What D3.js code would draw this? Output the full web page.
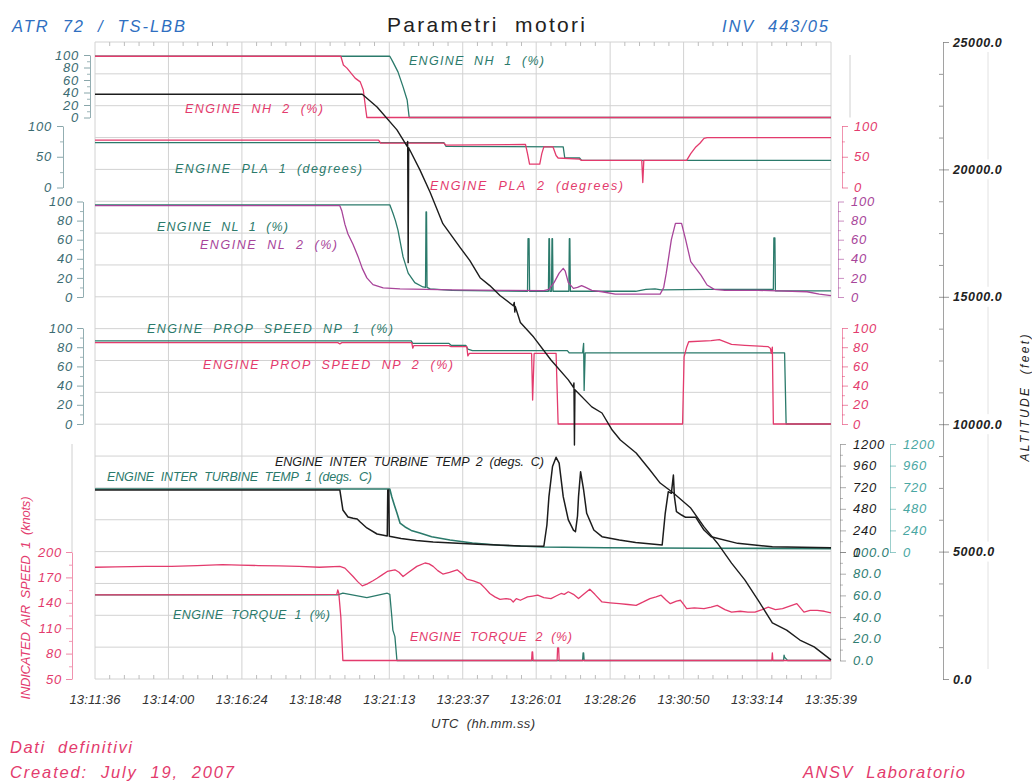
<!DOCTYPE html>
<html><head><meta charset="utf-8">
<script src="https://cdnjs.cloudflare.com/ajax/libs/d3/7.8.5/d3.min.js"></script>
<style>
body{margin:0;background:#fff;}
svg{font-family:"Liberation Sans",Arial,Helvetica,sans-serif;}
</style></head><body>
<svg id="c" width="1032" height="783"></svg>
<script>
// ---------------- DATA ----------------
const timeTicks = ["13:11:36","13:14:00","13:16:24","13:18:48","13:21:13","13:23:37","13:26:01","13:28:26","13:30:50","13:33:14","13:35:39"];
// series: [seconds after 13:11:36, value]
const engineNH1 = [[0,98],[578,98],[584,89],[594,73],[604,49],[612,28],[616,0],[1443,0]];
const engineNH2 = [[0,98],[482,98],[487,84],[494,79],[510,63],[520,57],[526,44],[531,12],[533,0],[1443,0]];
const enginePLA1 = [[0,73],[684,73],[688,67],[918,66],[921,48],[950,48],[954,44],[1443,44]];
const enginePLA2 = [[0,77],[556,77],[560,72],[684,72],[688,69],[844,70],[848,55],[852,38],[872,38],[876,55],[880,66],[898,66],[904,52],[908,48],[950,46],[954,44],[1072,44],[1074,8],[1076,44],[1160,44],[1168,55],[1178,66],[1186,72],[1194,80],[1200,81],[1443,81]];
const engineNL1 = [[0,96.5],[578,96.5],[584,88],[589,80],[594,70],[604,42],[614,25],[627,15],[643,10.5],[648,10],[649,89],[650,89],[651,10],[657,8.5],[700,7],[848,6],[849,61],[851,61],[852,6],[889,6],[890,61],[891,61],[892,6],[895,6],[896,61],[897,61],[898,6],[929,6],[930,61],[931,61],[932,6],[1060,6],[1080,8],[1098,8.5],[1110,7.5],[1200,8],[1330,8],[1331,62],[1333,62],[1334,6.5],[1443,6.5]];
const engineNL2 = [[0,95.6],[480,95.6],[484,90],[490,76],[496,66],[506,55],[516,42],[524,30],[533,20],[545,13],[565,9.5],[598,8.5],[700,7.5],[800,7],[880,6.6],[890,8],[900,15],[910,25],[918,30],[922,27],[928,15],[938,9],[946,10],[954,12],[962,10],[974,7],[994,5.5],[1020,3],[1061,3],[1108,3],[1115,10],[1120,25],[1130,60],[1138,77],[1150,77],[1158,60],[1168,37],[1178,30],[1188,23],[1200,12.6],[1214,8],[1235,7],[1300,7],[1396,5.5],[1420,3],[1443,1.5]];
const engineNP1 = [[0,86.5],[620,86.5],[623,84],[694,84],[698,82],[727,82],[731,78],[740,76.4],[926,76.4],[930,74],[956,74],[958,84],[959,35],[961,74],[1352,74],[1355,0],[1443,0]];
const engineNP2 = [[0,84.7],[476,84.7],[480,83.5],[484,84.7],[621,84.7],[623,79],[625,81.6],[694,81.6],[698,80.5],[729,80.5],[731,71],[734,73.6],[856,73.6],[858,25],[861,73.6],[904,73.6],[908,0],[1152,0],[1155,70],[1160,80],[1164,85.7],[1208,86.8],[1224,88],[1248,83],[1274,82],[1320,80.5],[1324,79],[1326,73.6],[1328,80],[1330,0],[1443,0]];
const engineITT1 = [[0,700],[574,700],[578,700],[582,611],[587,520],[592,433],[598,322],[608,278],[620,240],[637,211],[660,170],[696,133],[740,100],[794,75],[880,56],[1000,48],[1200,42],[1443,38]];
const engineITT2 = [[0,690],[480,690],[486,467],[496,389],[506,375],[514,367],[520,333],[533,267],[553,200],[573,178],[574,690],[576,690],[577,176],[600,150],[630,128],[663,111],[750,85],[834,67],[880,64],[886,300],[890,615],[897,950],[904,1052],[910,988],[918,615],[928,356],[938,244],[942,226],[946,400],[948,615],[952,892],[958,689],[964,430],[978,244],[994,170],[1028,133],[1060,105],[1112,78],[1118,430],[1124,670],[1130,652],[1134,855],[1136,615],[1140,448],[1150,411],[1158,385],[1178,385],[1194,244],[1208,170],[1260,96],[1328,59],[1443,48]];
const engineTorque1 = [[0,60.4],[476,60.4],[486,62],[533,58],[573,62],[578,61],[582,40],[584,28],[588,22],[592,0],[956,0],[957,7],[958,7],[959,0],[1350,0],[1351,5],[1352,3],[1356,1],[1358,0],[1443,0]];
const engineTorque2 = [[0,60.4],[474,61],[476,65],[478,62],[482,40],[486,0],[856,0],[857,8],[858,8],[859,0],[906,0],[907,11.5],[909,11.5],[910,0],[1327,0],[1328,7],[1329,0],[1443,0]];
const airSpeed = [[0,182],[40,182.5],[100,183],[150,183],[200,184],[250,185],[284,184.6],[320,184],[360,183.5],[400,183],[440,182],[480,183],[490,181],[506,171],[515,165],[524,160],[533,162],[545,166],[553,169],[563,173],[573,177],[588,179],[596,176],[604,171],[615,176],[631,183],[647,187],[655,186],[663,183],[672,178],[682,174],[695,176],[710,179],[720,174],[729,168],[742,166],[755,163],[765,157],[774,151],[784,147],[794,144],[806,145],[815,144],[820,141],[826,145],[834,143],[848,147],[858,148],[868,149],[880,146],[894,145],[904,148],[914,151],[920,150],[928,153],[938,150],[948,145],[958,150],[970,156],[980,150],[994,141],[1010,140],[1028,139],[1045,138],[1061,137],[1075,141],[1088,145],[1100,147],[1110,149],[1120,143],[1128,139],[1140,142],[1148,143],[1154,138],[1160,133],[1175,134],[1194,133],[1208,135],[1220,137],[1235,132],[1248,129],[1265,130],[1280,129],[1294,129],[1308,132],[1320,135],[1334,132],[1348,133],[1362,136],[1376,139],[1383,134],[1390,129],[1402,131],[1416,131],[1430,130],[1443,128]];
const altitude = [[0,22950],[524,22950],[553,22450],[592,21550],[612,20900],[613,21100],[614,16340],[615,20850],[637,19980],[657,19100],[682,17870],[716,16930],[735,16420],[755,15750],[774,15440],[794,15050],[820,14650],[822,14780],[823,14400],[824,14620],[834,13990],[860,13420],[894,12520],[928,11740],[938,11450],[939,11620],[940,9180],[941,11350],[974,10680],[994,10440],[1014,9770],[1030,9380],[1061,8870],[1088,8200],[1108,7690],[1134,7300],[1168,6710],[1194,5970],[1220,5340],[1248,4550],[1274,3890],[1300,3100],[1328,2200],[1356,1920],[1382,1530],[1410,1260],[1443,750]];

const pctTicks = [0,20,40,60,80,100];
const plaTicks = [0,50,100];
const ittTicks = [0,240,480,720,960,1200];
const torqueTicks = [0,20,40,60,80,100];
const iasTicks = [50,80,110,140,170,200];
const altTicks = [0,5000,10000,15000,20000,25000];

// ---------------- SETUP ----------------
const FONT = '"Liberation Sans",Arial,Helvetica,sans-serif';
const C = {teal:"#2b7a6b", pink:"#e33b6d", magenta:"#a8459a", black:"#1c1c1c", blue:"#2f6fc1",
           grid:"#d2d2d2", axTeal:"#3b6b72", ittTeal:"#4aa7a3", tq:"#2f7d72", gray:"#333"};
const svg = d3.select('#c');
const toSec = s => { const p = s.split(':').map(Number); return p[0]*3600+p[1]*60+p[2]; };
const T0 = toSec(timeTicks[0]);
const tickSecs = timeTicks.map(s => toSec(s) - T0);
const x = d3.scaleLinear().domain([0, tickSecs[tickSecs.length-1]]).range([95, 831]);

const yNH  = d3.scaleLinear().domain([0,100]).range([117.5,55]);
const yPLA = d3.scaleLinear().domain([0,100]).range([187.5,126]);
const yNL  = d3.scaleLinear().domain([0,100]).range([297,201.5]);
const yNP  = d3.scaleLinear().domain([0,100]).range([424,328]);
const yITT = d3.scaleLinear().domain([0,1200]).range([552,444]);
const yTQ  = d3.scaleLinear().domain([0,100]).range([660.5,552]);
const yIAS = d3.scaleLinear().domain([50,200]).range([679,552]);
const yALT = d3.scaleLinear().domain([0,25000]).range([679,42]);

// ---------------- GRID ----------------
const grid = svg.append('g');
grid.selectAll('line.h').data(d3.range(0, 25001, 1250)).join('line')
  .attr('x1', x.range()[0]).attr('x2', x.range()[1])
  .attr('y1', d => yALT(d)).attr('y2', d => yALT(d))
  .attr('stroke', C.grid).attr('stroke-width', 1);
grid.selectAll('line.v').data(tickSecs).join('line')
  .attr('x1', d => x(d)).attr('x2', d => x(d))
  .attr('y1', yALT.range()[1]).attr('y2', yALT.range()[0])
  .attr('stroke', C.grid).attr('stroke-width', 1);
const minorT = [];
for (let i = 0; i < tickSecs.length-1; i++) for (let k = 1; k < 5; k++) minorT.push(tickSecs[i] + (tickSecs[i+1]-tickSecs[i])*k/5);
grid.selectAll('line.mb').data(minorT).join('line')
  .attr('x1', d => x(d)).attr('x2', d => x(d)).attr('y1', 679).attr('y2', 675)
  .attr('stroke', '#bdbdbd');
grid.selectAll('line.mt').data(minorT).join('line')
  .attr('x1', d => x(d)).attr('x2', d => x(d)).attr('y1', 42).attr('y2', 46)
  .attr('stroke', '#bdbdbd');

// ---------------- AXES ----------------
function styleText(sel, color, size, extra) {
  sel.attr('fill', color).attr('font-size', size).style('font-style', 'italic')
     .attr('font-family', FONT).attr('letter-spacing', (extra && extra.ls !== undefined ? extra.ls : 0.8) + 'px');
  if (extra && extra.bold) sel.attr('font-weight', 'bold');
}
function makeAxis(side, scale, xPos, values, fmt, color, pad, opts) {
  opts = opts || {};
  const gen = (side === 'left' ? d3.axisLeft(scale) : d3.axisRight(scale))
    .tickValues(values).tickFormat(fmt).tickSize(opts.size || 6).tickSizeOuter(0).tickPadding(pad);
  const g = svg.append('g').attr('transform', `translate(${xPos},0)`).call(gen);
  g.select('.domain').attr('stroke', opts.lineColor || color).attr('stroke-opacity', 0.55);
  g.selectAll('.tick line').attr('stroke', opts.lineColor || color).attr('stroke-opacity', 0.6);
  styleText(g.selectAll('text'), color, opts.fs || 13, opts);
  if (opts.minor) {
    const mg = (side === 'left' ? d3.axisLeft(scale) : d3.axisRight(scale))
      .tickValues(opts.minor).tickFormat('').tickSize(opts.minorSize || 3).tickSizeOuter(0);
    const m = svg.append('g').attr('transform', `translate(${xPos},0)`).call(mg);
    m.select('.domain').remove();
    m.selectAll('.tick line').attr('stroke', opts.lineColor || color).attr('stroke-opacity', 0.5);
  }
  return g;
}
const fInt = d3.format('d'), f1 = d3.format('.1f');
makeAxis('left', yNH, 90, pctTicks, fInt, C.axTeal, 5, {minor: d3.range(10,100,20), ls:0.8});
makeAxis('left', yPLA, 63, plaTicks, fInt, C.axTeal, 5, {minor: [25,75]});
makeAxis('left', yNL, 83, pctTicks, fInt, C.axTeal, 4, {minor: d3.range(10,100,20)});
makeAxis('left', yNP, 83, pctTicks, fInt, C.axTeal, 4, {minor: d3.range(10,100,20)});
makeAxis('left', yIAS, 72, iasTicks, fInt, C.pink, 4, {minor: d3.range(65,200,30)});
makeAxis('right', yPLA, 842, plaTicks, fInt, C.pink, 6, {minor:[25,75]});
makeAxis('right', yNL, 838, pctTicks, fInt, C.magenta, 7, {minor: d3.range(10,100,20)});
makeAxis('right', yNP, 842, pctTicks, fInt, C.pink, 5, {minor: d3.range(10,100,20)});
makeAxis('right', yTQ, 840, torqueTicks, f1, C.tq, 7, {minor: d3.range(10,100,20), lineColor:'#777'});
makeAxis('right', yITT, 840, ittTicks, fInt, C.black, 7, {minor: d3.range(120,1200,240), lineColor:'#777'});
makeAxis('right', yITT, 890, ittTicks, fInt, C.ittTeal, 7, {});
makeAxis('right', yALT, 943, altTicks, f1, '#222', 4, {fs:12.5, bold:true, ls:0.6, lineColor:'#555'});
{
  const m = svg.append('g').attr('transform','translate(943,0)')
    .call(d3.axisLeft(yALT).tickValues(d3.range(1250,25000,1250)).tickFormat('').tickSize(4).tickSizeOuter(0));
  m.select('.domain').remove();
  m.selectAll('.tick line').attr('stroke','#999');
  svg.append('g').selectAll('line').data(altTicks.slice(1)).join('line')
    .attr('x1', 988).attr('x2', 988)
    .attr('y1', d => yALT(d) + 10).attr('y2', d => yALT(d - 5000) - 10)
    .attr('stroke', '#e2e2e2');
}
svg.append('line').attr('x1',850).attr('x2',850).attr('y1',yNH(100)).attr('y2',yNH(0)).attr('stroke','#d0d0d0');
svg.append('line').attr('x1',72).attr('x2',72).attr('y1',yITT(1200)).attr('y2',yITT(0)).attr('stroke','#d0d0d0');

svg.append('g').selectAll('text').data(timeTicks).join('text')
  .attr('x', (d,i) => x(tickSecs[i])).attr('y', 704).attr('text-anchor','middle')
  .text(d => d).call(s => styleText(s, C.gray, 13, {ls:0.2}));

// ---------------- SERIES ----------------
function drawLine(data, y, color, w) {
  svg.append('path').datum(data)
    .attr('d', d3.line().x(d => x(d[0])).y(d => y(d[1])))
    .attr('fill','none').attr('stroke', color).attr('stroke-width', w || 1.3)
    .attr('stroke-linejoin','round');
}
drawLine(engineNH1, yNH, C.teal);
drawLine(engineNH2, yNH, C.pink);
drawLine(enginePLA1, yPLA, C.teal);
drawLine(enginePLA2, yPLA, C.pink);
drawLine(engineNL1, yNL, C.teal);
drawLine(engineNL2, yNL, C.magenta);
drawLine(engineNP1, yNP, C.teal);
drawLine(engineNP2, yNP, C.pink);
drawLine(engineITT1, yITT, C.teal, 1.6);
drawLine(engineITT2, yITT, C.black, 1.5);
drawLine(airSpeed, yIAS, C.pink);
drawLine(engineTorque1, yTQ, C.teal);
drawLine(engineTorque2, yTQ, C.pink);
drawLine(altitude, yALT, C.black, 1.4);

// ---------------- SERIES LABELS ----------------
const seriesLabels = [
  {text:"ENGINE  NH  1  (%)", x:409, y:64.5, w:135, c:C.teal},
  {text:"ENGINE  NH  2  (%)", x:185, y:112.5, w:138, c:C.pink},
  {text:"ENGINE  PLA  1  (degrees)", x:175, y:173, w:187, c:C.teal},
  {text:"ENGINE  PLA  2  (degrees)", x:430, y:189.5, w:193, c:C.pink},
  {text:"ENGINE  NL  1  (%)", x:157, y:230.5, w:131, c:C.teal},
  {text:"ENGINE  NL  2  (%)", x:200, y:248.5, w:137, c:C.magenta},
  {text:"ENGINE  PROP  SPEED  NP  1  (%)", x:147, y:333, w:246, c:C.teal},
  {text:"ENGINE  PROP  SPEED  NP  2  (%)", x:203, y:368.5, w:250, c:C.pink},
  {text:"ENGINE  INTER  TURBINE  TEMP  2  (degs.  C)", x:275, y:466, w:269, c:C.black},
  {text:"ENGINE  INTER  TURBINE  TEMP  1  (degs.  C)", x:107, y:481, w:265, c:C.teal},
  {text:"ENGINE  TORQUE  1  (%)", x:173, y:618.5, w:157, c:C.teal},
  {text:"ENGINE  TORQUE  2  (%)", x:410, y:641, w:162, c:C.pink}
];
svg.append('g').selectAll('text').data(seriesLabels).join('text')
  .attr('x', d => d.x).attr('y', d => d.y).attr('fill', d => d.c)
  .attr('font-size', 12.5).style('font-style','italic').attr('font-family', FONT)
  .attr('textLength', d => d.w).attr('lengthAdjust','spacing')
  .style('white-space','pre').text(d => d.text);

// ---------------- TITLES ----------------
function txt(t, xx, yy, opt) {
  const e = svg.append('text').attr('x', xx).attr('y', yy).text(t)
    .attr('font-family', FONT).attr('font-size', opt.fs).attr('fill', opt.c)
    .style('white-space','pre');
  if (opt.italic !== false) e.style('font-style','italic');
  if (opt.w) e.attr('textLength', opt.w).attr('lengthAdjust','spacing');
  if (opt.anchor) e.attr('text-anchor', opt.anchor);
  if (opt.rot) e.attr('transform', `rotate(-90,${xx},${yy})`);
  return e;
}
txt("ATR  72  /  TS-LBB", 12, 32, {fs:16.5, c:C.blue, w:173});
txt("Parametri  motori", 387, 32, {fs:21, c:"#222", w:198, italic:false});
txt("INV  443/05", 722, 32, {fs:16.5, c:C.blue, w:106});
txt("UTC  (hh.mm.ss)", 483, 728, {fs:13, c:C.gray, anchor:'middle', w:104});
txt("Dati  definitivi", 10, 753, {fs:16.5, c:C.pink, w:122});
txt("Created:  July  19,  2007", 10, 778, {fs:16.5, c:C.pink, w:224});
txt("ANSV  Laboratorio", 803, 778, {fs:16.5, c:C.pink, w:162});
txt("INDICATED  AIR  SPEED  1  (knots)", 30, 598, {fs:13, c:C.pink, anchor:'middle', w:203, rot:true});
txt("ALTITUDE  (feet)", 1029, 398, {fs:12, c:"#222", anchor:'middle', w:127, rot:true});
</script>
</body></html>
